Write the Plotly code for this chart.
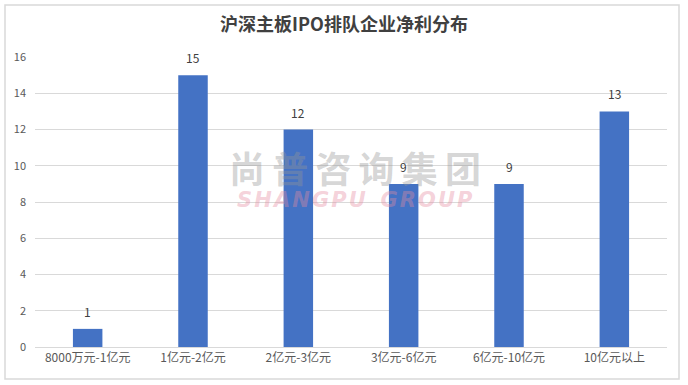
import plotly.graph_objects as go

categories = ["8000万元-1亿元", "1亿元-2亿元", "2亿元-3亿元", "3亿元-6亿元", "6亿元-10亿元", "10亿元以上"]
values = [1, 15, 12, 9, 9, 13]
y_ticks = [0, 2, 4, 6, 8, 10, 12, 14, 16]

FONT = "Noto Sans CJK SC, Microsoft YaHei, sans-serif"
W, H = 688, 385
L, R, T, B = 35, 21, 57, 38
pw, ph = W - L - R, H - T - B

def px_x(px):
    return (px - L) / pw

def px_y(py):
    return (H - B - py) / ph

fig = go.Figure(go.Bar(
    x=categories, y=values,
    marker=dict(color="#4472C4", line=dict(width=0)),
    hoverinfo="x+y",
))

label_annotations = [
    dict(x=c, y=v, xref="x", yref="y", text=str(v), showarrow=False,
         yanchor="bottom", yshift=7,
         font=dict(family=FONT, size=12, color="#404040"))
    for c, v in zip(categories, values)
]

wm_cn = "\u2009".join("尚普咨询集团")
wm_en = "\u200a".join("SHANGPU") + "  " + "\u200a".join("GROUP")

fig.update_layout(
    width=W, height=H,
    margin=dict(l=L, r=R, t=T, b=B),
    paper_bgcolor="white", plot_bgcolor="white",
    bargap=0.72,
    showlegend=False,
    title=dict(text="<b>沪深主板IPO排队企业净利分布</b>", x=0.5, xanchor="center",
               y=1 - 25 / H, yanchor="middle",
               font=dict(family=FONT, size=18, color="#404040")),
    xaxis=dict(showgrid=False, showline=True, linecolor="#d9d9d9", linewidth=1,
               ticks="", tickfont=dict(family=FONT, size=12, color="#595959")),
    yaxis=dict(range=[0, 16], tickvals=y_ticks, showgrid=True, gridcolor="#d9d9d9",
               gridwidth=1, zeroline=False, showline=False, ticks="",
               ticklabelstandoff=8,
               tickfont=dict(family=FONT, size=11, color="#595959")),
    shapes=[dict(type="rect", xref="paper", yref="paper",
                 x0=px_x(5), x1=px_x(679), y0=px_y(379), y1=px_y(5),
                 line=dict(color="#d9d9d9", width=1.5), fillcolor="rgba(0,0,0,0)", layer="below")],
    annotations=label_annotations + [
        dict(text="<b>" + wm_cn + "</b>", xref="paper", yref="paper", x=px_x(355), y=px_y(167),
             showarrow=False, font=dict(family=FONT, size=36, color="rgba(150,150,150,0.4)")),
        dict(text="<b><i>" + wm_en + "</i></b>", xref="paper", yref="paper", x=px_x(355), y=px_y(200),
             showarrow=False, font=dict(family="DejaVu Sans, sans-serif", size=21, color="rgba(230,140,160,0.4)")),
    ],
)

fig.write_html("out.html")
